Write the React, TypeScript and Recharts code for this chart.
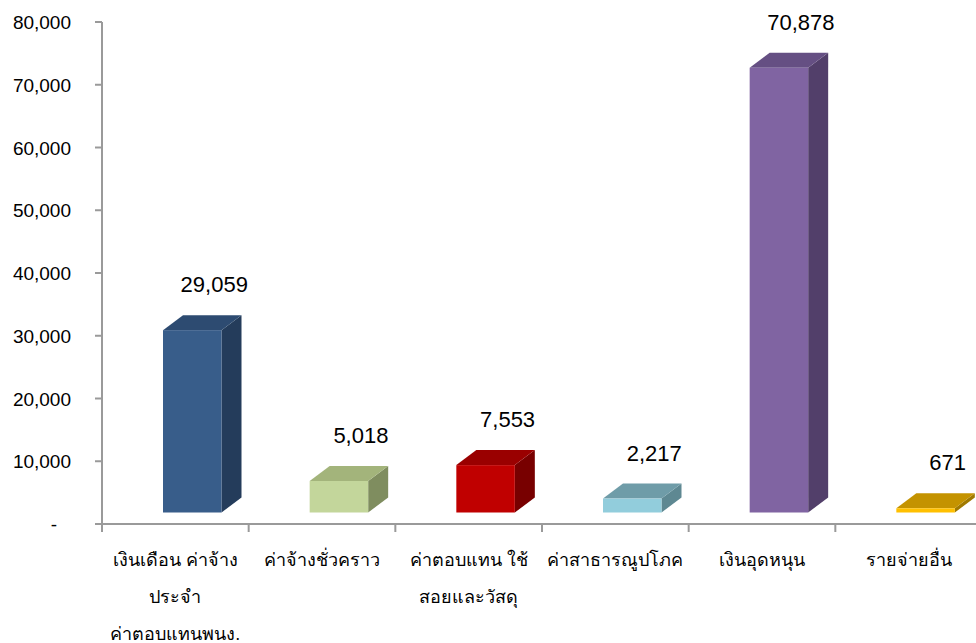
import { BarChart, Bar, XAxis, YAxis, LabelList, Cell } from "recharts"

// categories: lines separated by \n, the way they wrap under the axis
const categories = [
  "เงินเดือน ค่าจ้าง\nประจำ\nค่าตอบแทนพนง.",
  "ค่าจ้างชั่วคราว",
  "ค่าตอบแทน ใช้\nสอยและวัสดุ",
  "ค่าสาธารณูปโภค",
  "เงินอุดหนุน",
  "รายจ่ายอื่น",
]
const amounts = [29059, 5018, 7553, 2217, 70878, 671]
const yTicks = [0, 10000, 20000, 30000, 40000, 50000, 60000, 70000, 80000]

const frontColors = ["#385D8A", "#C3D69B", "#C00000", "#92CDDC", "#8064A2", "#FFC000"]
const topColors = ["#2D4B71", "#A3B47B", "#9A0000", "#6F9CA8", "#654F83", "#C49300"]
const sideColors = ["#243C5B", "#7F8D5F", "#780000", "#5E8892", "#523F6A", "#A07A00"]

const data = categories.map((name, i) => ({ name, amount: amounts[i], idx: i }))

const CHART_W = 990
const CHART_H = 643
const LEFT = 102
const RIGHT_MARGIN = 8
const BAND = (CHART_W - LEFT - RIGHT_MARGIN) / categories.length

// 3d look
const SHIFT = 17 // bars sit right of the band centre
const FLOOR = 11.5 // front face baseline sits above the axis line
const DX = 20
const DY = 15

const AXIS = "#9a9a9a"
const FONT = "'Liberation Sans', Arial, sans-serif"

const Bar3D = (props: any) => {
  const { x, y, width, height, payload, index } = props
  const i = payload?.idx ?? index ?? 0
  const x0 = x + SHIFT
  const x1 = x0 + width
  const yt = y - FLOOR
  const yb = y + height - FLOOR
  return (
    <g>
      <polygon
        points={`${x1},${yt} ${x1 + DX},${yt - DY} ${x1 + DX},${yb - DY} ${x1},${yb}`}
        fill={sideColors[i]}
      />
      <polygon
        points={`${x0},${yt} ${x0 + DX},${yt - DY} ${x1 + DX},${yt - DY} ${x1},${yt}`}
        fill={topColors[i]}
      />
      <rect x={x0} y={yt} width={width} height={Math.max(yb - yt, 0)} fill={frontColors[i]} />
    </g>
  )
}

const ValueLabel = (props: any) => {
  const { x, y, width, value } = props
  const cx = x + SHIFT + DX + width / 2 + 2
  const by = y - FLOOR - DY - 23
  return (
    <text x={cx} y={by} textAnchor="middle" fontFamily={FONT} fontSize={22} fill="#000">
      {Number(value).toLocaleString("en-US")}
    </text>
  )
}

const YTick = (props: any) => {
  const { x, y, payload } = props
  const v = payload.value
  return (
    <text
      x={v === 0 ? x - 14 : x}
      y={y}
      dy={7}
      textAnchor="end"
      fontFamily={FONT}
      fontSize={19}
      fill="#000"
    >
      {v === 0 ? "-" : v.toLocaleString("en-US")}
    </text>
  )
}

const XTick = (props: any) => {
  const { x, y, payload } = props
  const lines = String(payload.value).split("\n")
  const left = x - BAND / 2
  return (
    <g>
      <line x1={left} x2={left} y1={y} y2={y + 8} stroke={AXIS} strokeWidth={2} />
      {lines.map((ln, k) => (
        <text
          key={k}
          x={x}
          y={y + 42 + k * 37}
          textAnchor="middle"
          fontFamily={FONT}
          fontSize={18}
          fill="#000"
        >
          {ln}
        </text>
      ))}
    </g>
  )
}

export default function App() {
  return (
    <div
      style={{
        position: "fixed",
        top: 0,
        left: 0,
        width: 976,
        height: 643,
        overflow: "hidden",
        background: "#fff",
      }}
    >
      <BarChart
        width={CHART_W}
        height={CHART_H}
        data={data}
        margin={{ top: 22, right: RIGHT_MARGIN, left: 0, bottom: 0 }}
      >
        <XAxis
          dataKey="name"
          height={119}
          interval={0}
          axisLine={{ stroke: AXIS, strokeWidth: 2 }}
          tickLine={false}
          tickSize={0}
          tickMargin={0}
          tick={<XTick />}
        />
        <YAxis
          width={LEFT}
          domain={[0, 80000]}
          ticks={yTicks}
          interval={0}
          axisLine={{ stroke: AXIS, strokeWidth: 2 }}
          tickLine={{ stroke: AXIS, strokeWidth: 2 }}
          tickSize={7}
          tickMargin={24}
          tick={<YTick />}
        />
        <Bar dataKey="amount" barSize={58.5} shape={<Bar3D />} isAnimationActive={false}>
          {data.map((d) => (
            <Cell key={d.idx} fill={frontColors[d.idx]} />
          ))}
          <LabelList dataKey="amount" content={<ValueLabel />} />
        </Bar>
      </BarChart>
    </div>
  )
}
